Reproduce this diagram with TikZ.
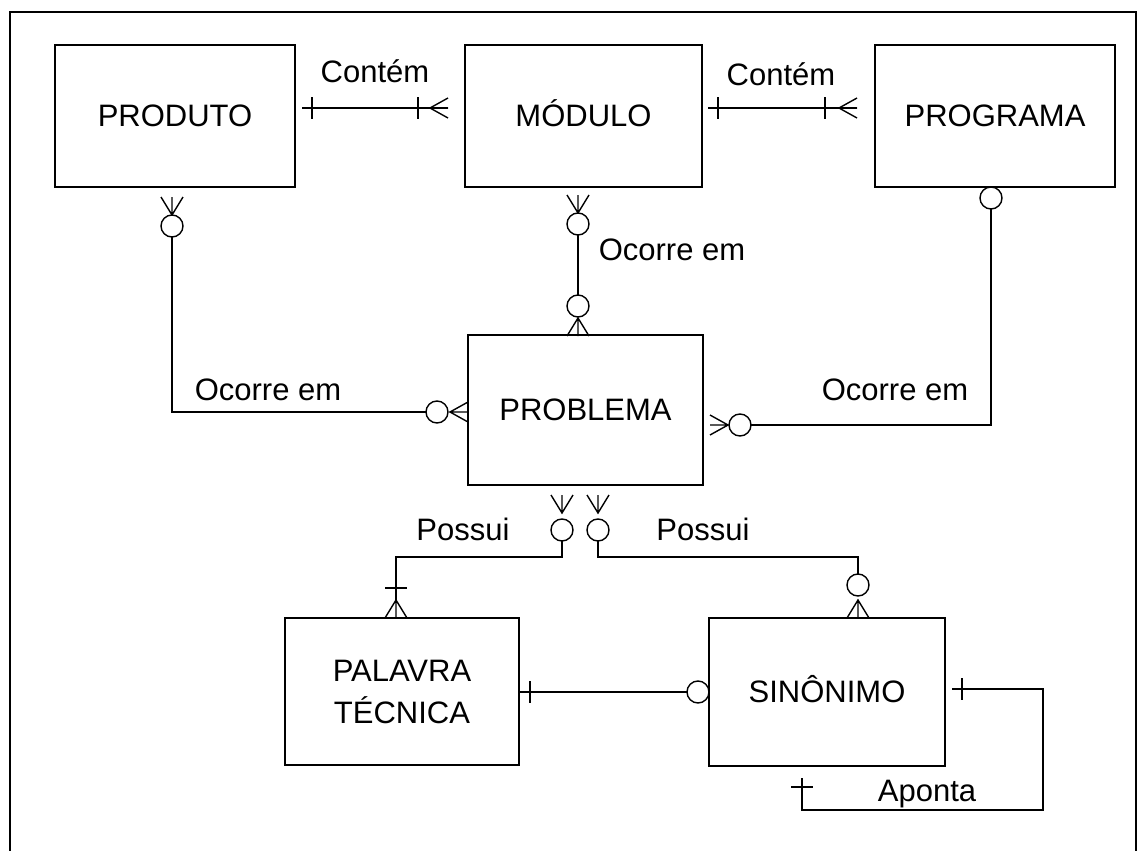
\documentclass[tikz,border=0pt]{standalone}
\usepackage{fontspec}
\setmainfont{Liberation Sans}
\usetikzlibrary{calc}
\begin{document}
\begin{tikzpicture}[x=0.5pt,y=-0.5pt,
  font=\fontsize{15.5}{21}\selectfont,
  ent/.style={draw,line width=0.8pt,inner sep=0pt,outer sep=0pt,align=center,
    minimum width=120pt,minimum height=71pt},
  conn/.style={line width=0.7pt},
  lbl/.style={inner sep=0pt,anchor=base},
  crowU/.pic={\draw[conn] (-11,-18) -- (0,0) -- (11,-18) (0,0) -- (0,-18);},
  crowD/.pic={\draw[conn] (-11,18) -- (0,0) -- (11,18) (0,0) -- (0,18);},
  crowL/.pic={\draw[conn] (-18,-10) -- (0,0) -- (-18,10) (0,0) -- (-18,0);},
  crowR/.pic={\draw[conn] (18,-10) -- (0,0) -- (18,10) (0,0) -- (18,0);},
  ring/.pic={\draw[conn,fill=white] (0,0) circle[radius=11];},
  tickV/.pic={\draw[conn] (0,-11) -- (0,11);},
  tickH/.pic={\draw[conn] (-11,0) -- (11,0);}]

\useasboundingbox (0,0) rectangle (1147,851);
% outer frame
\draw[line width=0.9pt] (10,851) -- (10,12) -- (1136,12) -- (1136,851);

% entities (accents smashed so every name sits on the same baseline)
\node[ent] (prod) at (175,116) {PRODUTO};
\node[ent,minimum width=118.5pt] (mod) at (583.5,116) {M\smash{Ó}DULO};
\node[ent] (prog) at (995,116) {PROGRAMA};
\node[ent,minimum width=117.5pt,minimum height=75pt] (prob) at (585.5,410) {PROBLEMA};
\node[ent,minimum width=117pt,minimum height=73.5pt] (pal) at (402,691.5) {PALAVRA\\T\smash{É}CNICA};
\node[ent,minimum width=118pt,minimum height=74pt] (sin) at (827,692) {SIN\smash{Ô}NIMO};

% Contém: PRODUTO - MÓDULO
\coordinate (c1a) at ($(prod.east)+(7,-8)$);
\coordinate (c1b) at ($(mod.west)+(-17,-8)$);
\draw[conn] (c1a) -- (c1b);
\pic at ($(c1a)+(10,0)$) {tickV};
\pic at ($(c1b)+(-30,0)$) {tickV};
\pic at ($(c1b)+(-18,0)$) {crowR};

% Contém: MÓDULO - PROGRAMA
\coordinate (c2a) at ($(mod.east)+(6,-8)$);
\coordinate (c2b) at ($(prog.west)+(-18,-8)$);
\draw[conn] (c2a) -- (c2b);
\pic at ($(c2a)+(10,0)$) {tickV};
\pic at ($(c2b)+(-32,0)$) {tickV};
\pic at ($(c2b)+(-18,0)$) {crowR};

% Ocorre em: PRODUTO - PROBLEMA
\coordinate (p1) at ($(prod.south)+(-3,0)$);
\draw[conn] ($(p1)+(0,50)$) |- ($(prob.west)+(-42,2)$);
\pic at ($(p1)+(0,28)$) {crowU};
\pic at ($(p1)+(0,39)$) {ring};
\pic at ($(prob.west)+(-31,2)$) {ring};
\pic at ($(prob.west)+(-18,2)$) {crowR};

% Ocorre em: MÓDULO - PROBLEMA
\coordinate (m1) at ($(mod.south)+(-5.5,0)$);
\draw[conn] ($(m1)+(0,48)$) -- ($(m1 |- prob.north)+(0,-40)$);
\pic at ($(m1)+(0,26)$) {crowU};
\pic at ($(m1)+(0,37)$) {ring};
\pic at ($(m1 |- prob.north)+(0,-29)$) {ring};
\pic at ($(m1 |- prob.north)+(0,-17)$) {crowD};

% Ocorre em: PROGRAMA - PROBLEMA
\coordinate (g1) at ($(prog.south)+(-4,0)$);
\draw[conn] ($(g1)+(0,22)$) |- ($(prob.east)+(48,15)$);
\pic at ($(g1)+(0,11)$) {ring};
\pic at ($(prob.east)+(37,15)$) {ring};
\pic at ($(prob.east)+(25,15)$) {crowL};

% Possui: PROBLEMA - PALAVRA TÉCNICA
\coordinate (b1) at ($(prob.south)+(-23.5,0)$);
\draw[conn] ($(b1)+(0,56)$) -- ($(b1)+(0,72)$) -| ($(pal.north)+(-6,-18)$);
\pic at ($(b1)+(0,28)$) {crowU};
\pic at ($(b1)+(0,45)$) {ring};
\pic at ($(pal.north)+(-6,-30)$) {tickH};
\pic at ($(pal.north)+(-6,-18)$) {crowD};

% Possui: PROBLEMA - SINÔNIMO
\coordinate (b2) at ($(prob.south)+(12.5,0)$);
\draw[conn] ($(b2)+(0,56)$) -- ($(b2)+(0,72)$) -| ($(sin.north)+(31,-44)$);
\pic at ($(b2)+(0,28)$) {crowU};
\pic at ($(b2)+(0,45)$) {ring};
\pic at ($(sin.north)+(31,-33)$) {ring};
\pic at ($(sin.north)+(31,-18)$) {crowD};

% PALAVRA TÉCNICA - SINÔNIMO
\draw[conn] ($(pal.east)+(0,0.5)$) -- ($(sin.west)+(-22,0)$);
\pic at ($(pal.east)+(11,0.5)$) {tickV};
\pic at ($(sin.west)+(-11,0)$) {ring};

% Aponta: SINÔNIMO - SINÔNIMO
\coordinate (a1) at ($(sin.east)+(7,-3)$);
\draw[conn] (a1) -| ($(sin.south east)+(98,44)$) -| ($(sin.south)+(-25,12)$);
\pic at ($(a1)+(10,0)$) {tickV};
\pic at ($(sin.south)+(-25,21)$) {tickH};

% relationship labels
\node[lbl] (lc1) at (375,83) {Contém};
\node[lbl] (lc2) at (781,85) {Contém};
\node[lbl] (lo1) at (672,260) {Ocorre em};
\node[lbl] (lo2) at (268,400) {Ocorre em};
\node[lbl] (lo3) at (895,400) {Ocorre em};
\node[lbl] (lp1) at (463,540) {Possui};
\node[lbl] (lp2) at (703,540) {Possui};
\node[lbl] (la) at (927,801) {Aponta};
\end{tikzpicture}
\end{document}
